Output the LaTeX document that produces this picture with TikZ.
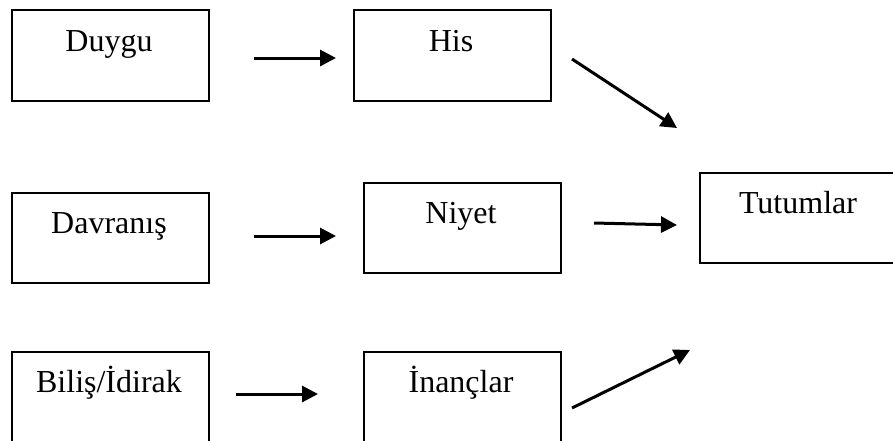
\documentclass[tikz,border=0pt]{standalone}
\usepackage{fontspec}
\setmainfont{Liberation Serif}
\usetikzlibrary{arrows.meta}
\begin{document}
\begin{tikzpicture}[x=1pt,y=-1pt,
  box/.style={draw=black,line width=2.2pt,rectangle,inner sep=0pt,anchor=north west},
  lbl/.style={anchor=base,inner sep=0pt,font=\fontsize{32}{38}\selectfont},
  arr/.style={line width=3pt,-{Triangle[length=16pt,width=16pt]}}]
\useasboundingbox (0,0) rectangle (893,440);
\clip (0,0) rectangle (893,440);
% boxes
\node[box,minimum width=197pt,minimum height=91pt] (bduygu) at (11,9) {};
\node[box,minimum width=197pt,minimum height=91pt] (bhis) at (353,9) {};
\node[box,minimum width=197pt,minimum height=90pt] (bdavranis) at (11,192) {};
\node[box,minimum width=197pt,minimum height=90pt] (bniyet) at (363,182) {};
\node[box,minimum width=230pt,minimum height=90pt] (btutum) at (699,172) {};
\node[box,minimum width=197pt,minimum height=120pt] (bbilis) at (11,351) {};
\node[box,minimum width=197pt,minimum height=120pt] (binanc) at (363,351) {};
% labels
\node[lbl] (tduygu) at (109,51) {Duygu};
\node[lbl] (this) at (451,51) {His};
\node[lbl] (tdavranis) at (109,233) {Davranış};
\node[lbl] (tniyet) at (461,223) {Niyet};
\node[lbl] (ttutum) at (798,213) {Tutumlar};
\node[lbl] (tbilis) at (109,392) {Biliş/İdirak};
\node[lbl] (tinanc) at (461,392) {İnançlar};
% arrow end points
\coordinate (a1s) at (254,58);  \coordinate (a1e) at (336,58);
\coordinate (a2s) at (254,236); \coordinate (a2e) at (336,236);
\coordinate (a3s) at (236,394); \coordinate (a3e) at (318,394);
\coordinate (a4s) at (572,59);  \coordinate (a4e) at (677,128);
\coordinate (a5s) at (594,223); \coordinate (a5e) at (677,225);
\coordinate (a6s) at (572,408); \coordinate (a6e) at (690,350);
\draw[arr] (a1s) -- (a1e);
\draw[arr] (a2s) -- (a2e);
\draw[arr] (a3s) -- (a3e);
\draw[arr] (a4s) -- (a4e);
\draw[arr] (a5s) -- (a5e);
\draw[arr] (a6s) -- (a6e);
\end{tikzpicture}
\end{document}
